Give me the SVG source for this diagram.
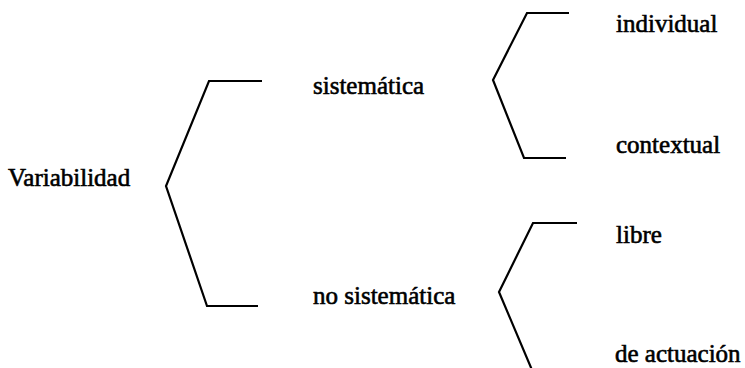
<svg xmlns="http://www.w3.org/2000/svg" width="745" height="368" viewBox="0 0 745 368">
<style>
.t{font-family:"Liberation Serif","Times New Roman",serif;font-size:25px;fill:#000;stroke:#000;stroke-width:0.6}
.b{fill:none;stroke:#000;stroke-width:2.2;stroke-linejoin:miter}
</style>
<rect width="745" height="368" fill="#fff"/>
<g id="connectors">
<polyline class="b" points="262,81 209,81 166,186 207,306 258,306"/>
<polyline class="b" points="569,13 527,13 493,80 524,158 566,158"/>
<polyline class="b" points="577,223 533,223 499,292 532,370"/>
</g>
<g id="variabilidad"><text class="t" x="8" y="186">Variabilidad</text></g>
<g id="sistematica"><text class="t" x="313" y="94">sistemática</text></g>
<g id="no-sistematica"><text class="t" x="313" y="304">no sistemática</text></g>
<g id="individual"><text class="t" x="616" y="32">individual</text></g>
<g id="contextual"><text class="t" x="616" y="153">contextual</text></g>
<g id="libre"><text class="t" x="616" y="243">libre</text></g>
<g id="de-actuacion"><text class="t" x="615" y="362">de actuación</text></g>
</svg>
